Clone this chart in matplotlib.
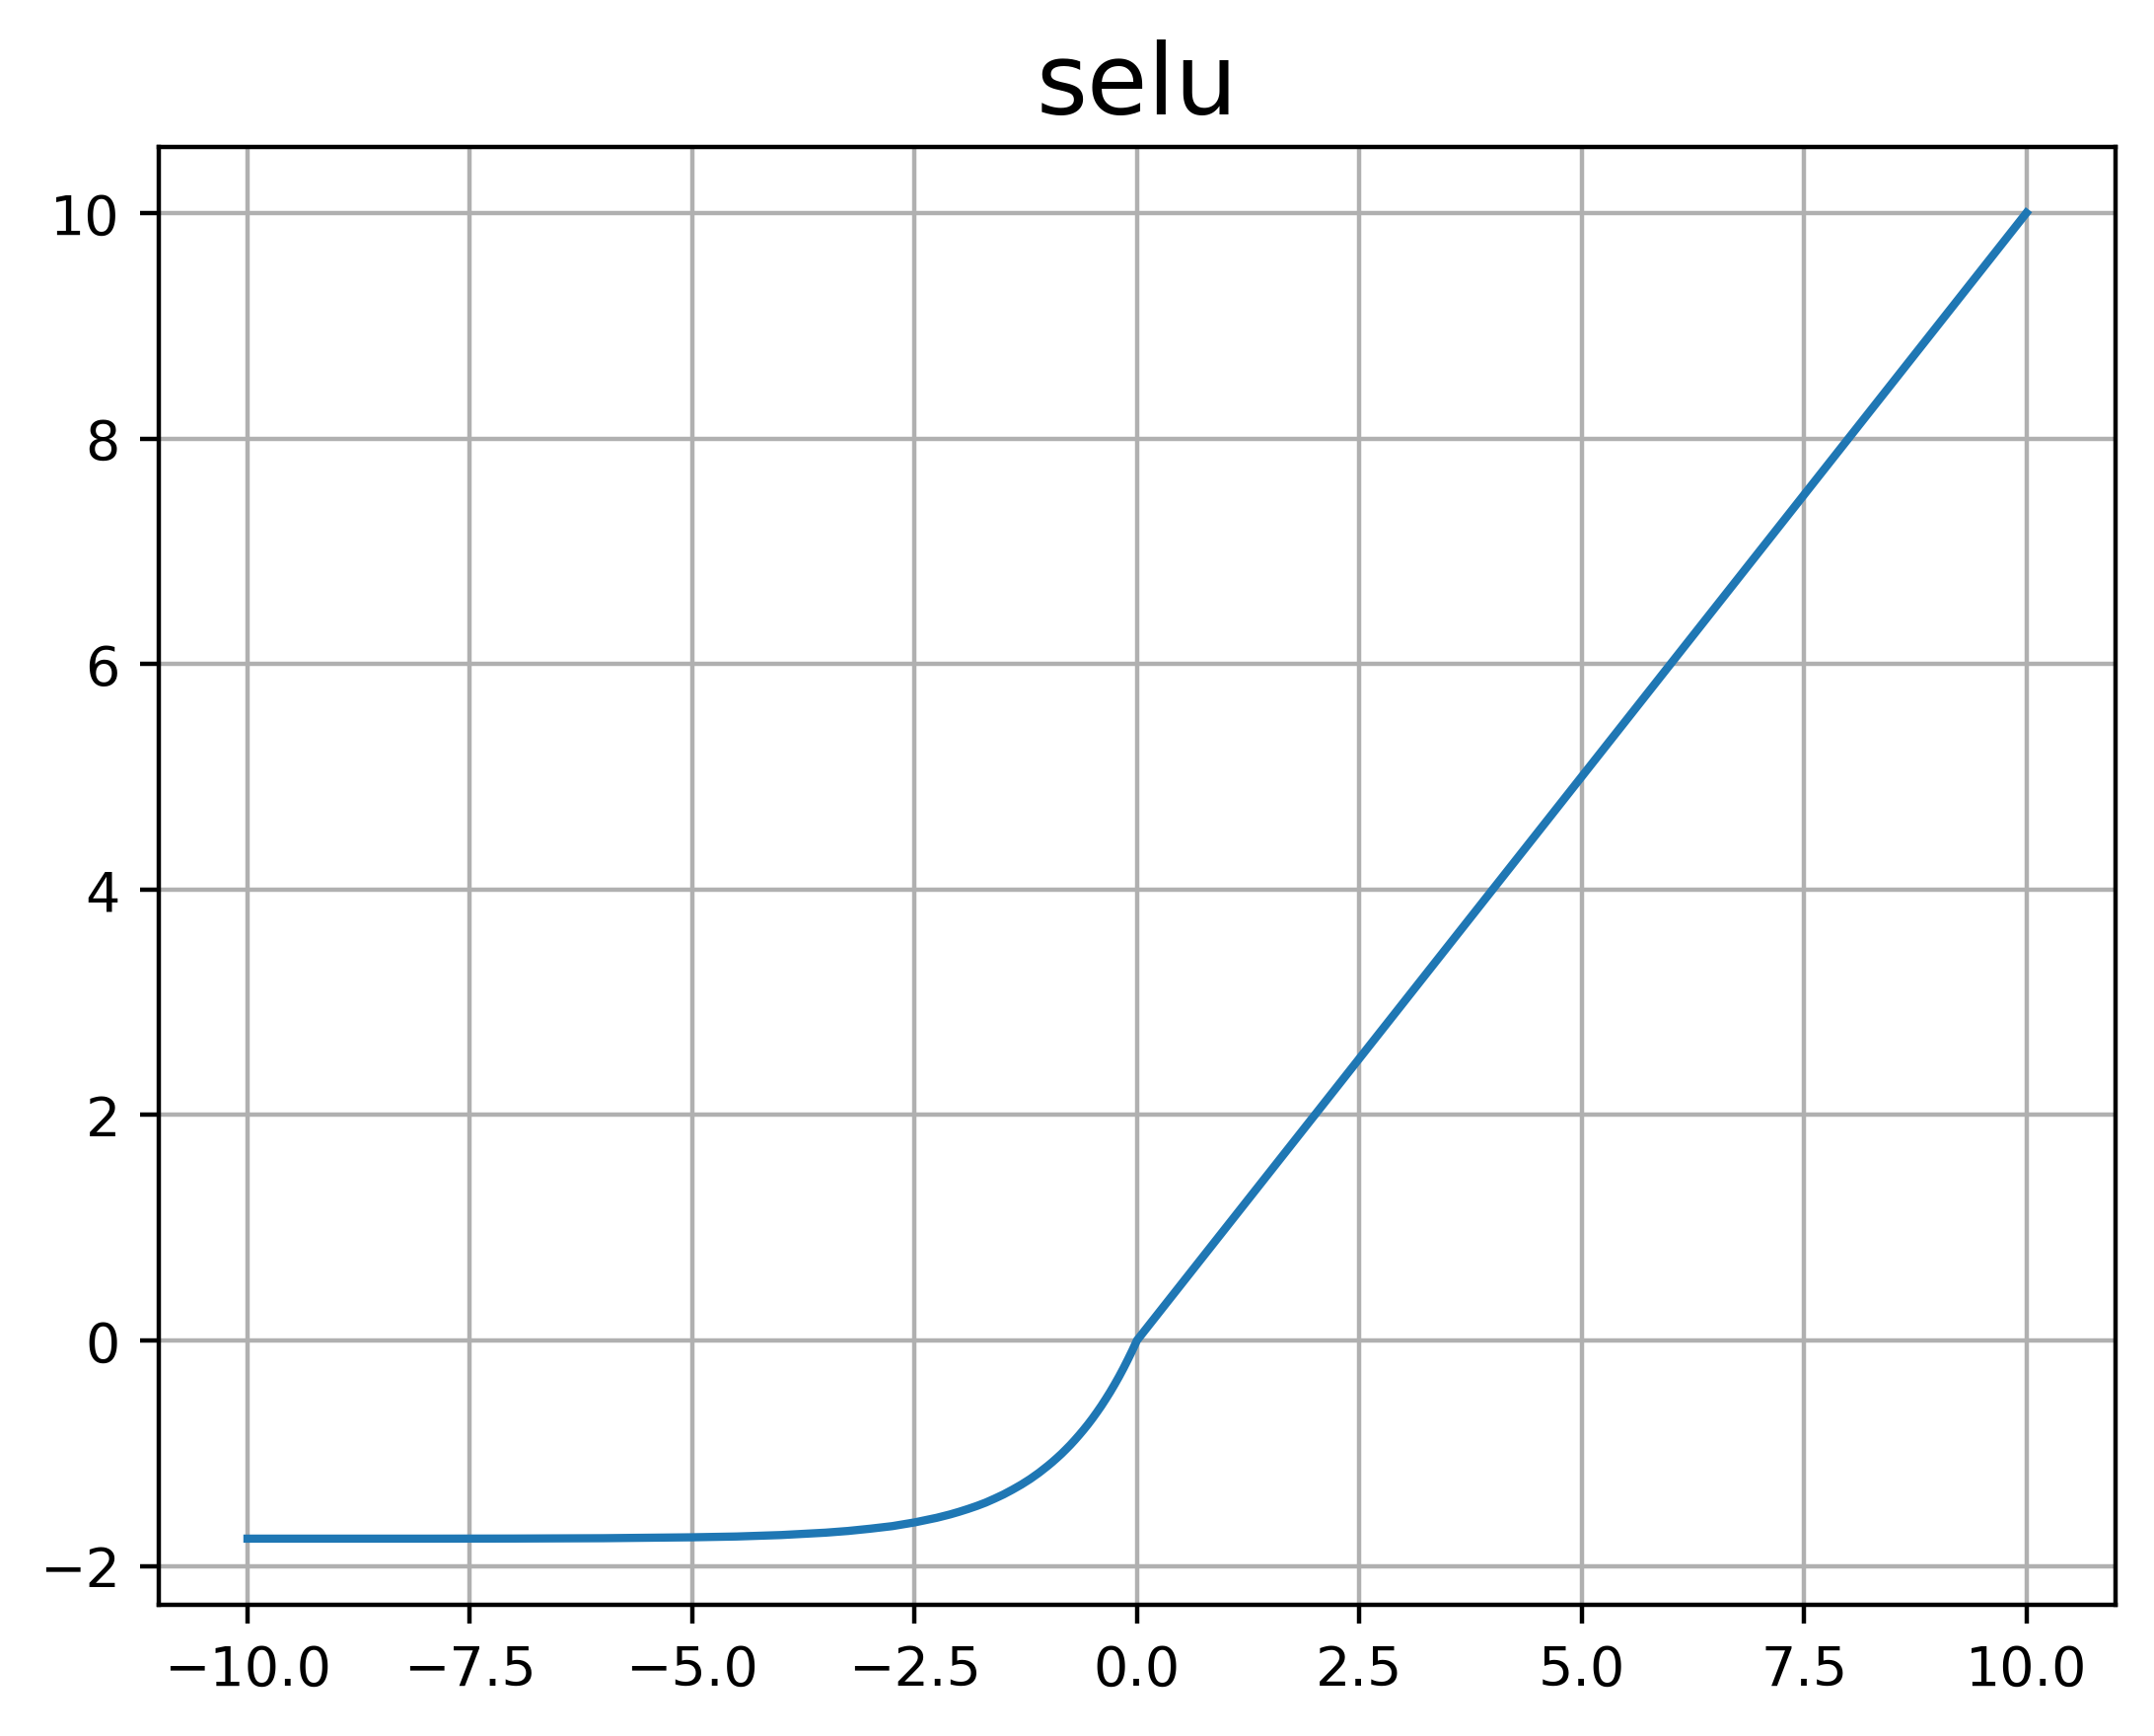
import matplotlib
matplotlib.use('Agg')
import matplotlib.pyplot as plt

# values
x = [-10, -8, -7, -6, -5, -4.5, -4, -3.5, -3.25, -3, -2.75, -2.5, -2.25,
     -2.1, -2, -1.9, -1.8, -1.7, -1.6, -1.5, -1.4, -1.3, -1.2, -1.1, -1,
     -0.95, -0.9, -0.85, -0.8, -0.75, -0.7, -0.65, -0.6, -0.55, -0.5, -0.45,
     -0.4, -0.35, -0.3, -0.25, -0.2, -0.15, -0.1, -0.05,
     0, 2.5, 5, 7.5, 10]
y = [-1.758, -1.758, -1.757, -1.754, -1.746, -1.739, -1.726, -1.705, -1.690,
     -1.670, -1.647, -1.614, -1.573, -1.543, -1.520, -1.495, -1.468, -1.438,
     -1.403, -1.366, -1.324, -1.279, -1.229, -1.173, -1.111,
     -1.078, -1.043, -1.007, -0.968, -0.928, -0.885, -0.840, -0.793, -0.744,
     -0.692, -0.637, -0.580, -0.519, -0.456, -0.389, -0.319, -0.245, -0.167,
     -0.086,
     0, 2.5, 5, 7.5, 10]
title = 'selu'

fig, ax = plt.subplots(figsize=(6.4, 4.8))
ax.plot(x, y, color='#1f77b4', linewidth=1.5)
ax.set_title(title, fontsize=18)
ax.grid(True)

fig.savefig('out.png', dpi=400, bbox_inches='tight')
